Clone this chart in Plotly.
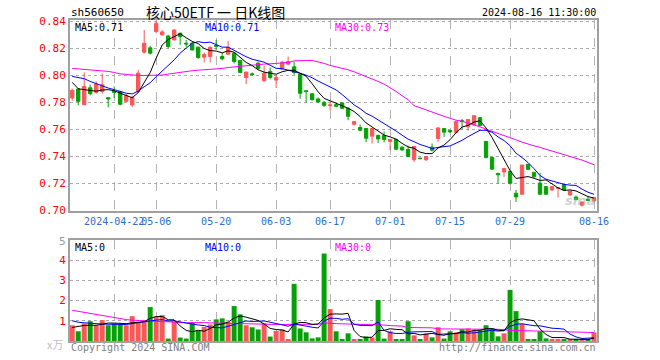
import plotly.graph_objects as go
import pandas as pd

# ---------------- data ----------------
dates = [
    "2024-04-11", "2024-04-12", "2024-04-15", "2024-04-16", "2024-04-17", "2024-04-18", "2024-04-19",
    "2024-04-22", "2024-04-23", "2024-04-24", "2024-04-25", "2024-04-26", "2024-04-29", "2024-04-30",
    "2024-05-06", "2024-05-07", "2024-05-08", "2024-05-09", "2024-05-10",
    "2024-05-13", "2024-05-14", "2024-05-15", "2024-05-16", "2024-05-17",
    "2024-05-20", "2024-05-21", "2024-05-22", "2024-05-23", "2024-05-24",
    "2024-05-27", "2024-05-28", "2024-05-29", "2024-05-30", "2024-05-31",
    "2024-06-03", "2024-06-04", "2024-06-05", "2024-06-06", "2024-06-07",
    "2024-06-11", "2024-06-12", "2024-06-13", "2024-06-14",
    "2024-06-17", "2024-06-18", "2024-06-19", "2024-06-20", "2024-06-21",
    "2024-06-24", "2024-06-25", "2024-06-26", "2024-06-27", "2024-06-28",
    "2024-07-01", "2024-07-02", "2024-07-03", "2024-07-04", "2024-07-05",
    "2024-07-08", "2024-07-09", "2024-07-10", "2024-07-11", "2024-07-12",
    "2024-07-15", "2024-07-16", "2024-07-17", "2024-07-18", "2024-07-19",
    "2024-07-22", "2024-07-23", "2024-07-24", "2024-07-25", "2024-07-26",
    "2024-07-29", "2024-07-30", "2024-07-31", "2024-08-01", "2024-08-02",
    "2024-08-05", "2024-08-06", "2024-08-07", "2024-08-08", "2024-08-09",
    "2024-08-12", "2024-08-13", "2024-08-14", "2024-08-15", "2024-08-16",
]

open_ = [0.7832, 0.7899, 0.7783, 0.7908, 0.7874, 0.7881, 0.7835, 0.7881, 0.7881, 0.7808,
         0.7781, 0.7881, 0.8171, 0.8203, 0.8323, 0.8299, 0.8291, 0.8262, 0.8311, 0.8237,
         0.8237, 0.8208, 0.8134, 0.8139, 0.8220, 0.8139, 0.8156, 0.8164, 0.8110, 0.7984,
         0.8011, 0.8090, 0.7960, 0.8029, 0.7965, 0.8046, 0.8083, 0.8063, 0.8009, 0.7886,
         0.7864, 0.7825, 0.7800, 0.7776, 0.7783, 0.7796, 0.7756, 0.7638, 0.7614, 0.7607,
         0.7550, 0.7555, 0.7555, 0.7511, 0.7526, 0.7469, 0.7452, 0.7376, 0.7388, 0.7376,
         0.7469, 0.7533, 0.7607, 0.7592, 0.7577, 0.7665, 0.7619, 0.7634, 0.7687, 0.7511,
         0.7393, 0.7275, 0.7285, 0.7290, 0.7128, 0.7121, 0.7342, 0.7283, 0.7204, 0.7177,
         0.7153, 0.7165, 0.7192, 0.7116, 0.7101, 0.7040, 0.7084, 0.7072]
high = [0.7901, 0.7906, 0.8021, 0.7930, 0.7955, 0.8014, 0.7835, 0.7918, 0.7886, 0.7864,
        0.7849, 0.8041, 0.8335, 0.8218, 0.8404, 0.8335, 0.8299, 0.8340, 0.8316, 0.8262,
        0.8247, 0.8213, 0.8169, 0.8213, 0.8262, 0.8164, 0.8254, 0.8169, 0.8115, 0.8026,
        0.8021, 0.8100, 0.8070, 0.8058, 0.8004, 0.8107, 0.8139, 0.8102, 0.8016, 0.7886,
        0.7864, 0.7837, 0.7810, 0.7808, 0.7788, 0.7800, 0.7764, 0.7658, 0.7636, 0.7607,
        0.7611, 0.7562, 0.7584, 0.7530, 0.7530, 0.7476, 0.7481, 0.7479, 0.7390, 0.7400,
        0.7496, 0.7616, 0.7607, 0.7597, 0.7661, 0.7678, 0.7673, 0.7702, 0.7692, 0.7511,
        0.7393, 0.7275, 0.7312, 0.7290, 0.7153, 0.7337, 0.7346, 0.7283, 0.7280, 0.7177,
        0.7177, 0.7170, 0.7192, 0.7145, 0.7101, 0.7064, 0.7108, 0.7096]
low = [0.7813, 0.7778, 0.7778, 0.7852, 0.7864, 0.7864, 0.7764, 0.7832, 0.7778, 0.7803,
       0.7766, 0.7869, 0.8161, 0.8154, 0.8311, 0.8294, 0.8200, 0.8257, 0.8225, 0.8208,
       0.8183, 0.8122, 0.8095, 0.8095, 0.8188, 0.8110, 0.8154, 0.8088, 0.8016, 0.7935,
       0.7997, 0.8041, 0.7953, 0.7970, 0.7906, 0.8041, 0.8073, 0.8004, 0.7827, 0.7800,
       0.7813, 0.7796, 0.7766, 0.7742, 0.7764, 0.7751, 0.7668, 0.7629, 0.7587, 0.7506,
       0.7496, 0.7499, 0.7503, 0.7447, 0.7447, 0.7440, 0.7396, 0.7359, 0.7383, 0.7366,
       0.7437, 0.7506, 0.7543, 0.7575, 0.7572, 0.7599, 0.7592, 0.7629, 0.7624, 0.7386,
       0.7300, 0.7197, 0.7248, 0.7194, 0.7064, 0.7121, 0.7300, 0.7243, 0.7118, 0.7116,
       0.7145, 0.7096, 0.7145, 0.7108, 0.7076, 0.7030, 0.7076, 0.7064]
close = [0.7889, 0.7808, 0.7918, 0.7864, 0.7935, 0.7930, 0.7825, 0.7874, 0.7786, 0.7849,
         0.7837, 0.8016, 0.8237, 0.8164, 0.8384, 0.8321, 0.8213, 0.8335, 0.8286, 0.8232,
         0.8188, 0.8132, 0.8154, 0.8208, 0.8215, 0.8122, 0.8208, 0.8102, 0.8021, 0.8024,
         0.8006, 0.8051, 0.8016, 0.7984, 0.7984, 0.8097, 0.8102, 0.8021, 0.7867, 0.7881,
         0.7820, 0.7803, 0.7778, 0.7781, 0.7771, 0.7756, 0.7697, 0.7658, 0.7594, 0.7535,
         0.7607, 0.7530, 0.7526, 0.7526, 0.7454, 0.7449, 0.7400, 0.7474, 0.7384, 0.7400,
         0.7447, 0.7611, 0.7580, 0.7582, 0.7658, 0.7658, 0.7673, 0.7702, 0.7629, 0.7393,
         0.7307, 0.7265, 0.7312, 0.7202, 0.7101, 0.7337, 0.7305, 0.7251, 0.7121, 0.7121,
         0.7177, 0.7170, 0.7153, 0.7145, 0.7081, 0.7064, 0.7076, 0.7096]

# first moving-average values (their history lies before the first candle)
ma5_start = [0.7948, 0.7901, 0.7894, 0.7886]
ma10_start = [0.7992, 0.7984, 0.7975, 0.7955, 0.7938, 0.7918, 0.7906, 0.7894, 0.7881]
ma30 = [0.8051, 0.8048, 0.8046, 0.8043, 0.8038, 0.8034, 0.8029, 0.8021, 0.8011, 0.8007,
        0.8002, 0.7999, 0.7999, 0.7999, 0.7999, 0.8002, 0.8009, 0.8016, 0.8021, 0.8029,
        0.8034, 0.8038, 0.8041, 0.8043, 0.8046, 0.8051, 0.8058, 0.8063, 0.8065, 0.8070,
        0.8075, 0.8080, 0.8083, 0.8085, 0.8088, 0.8088, 0.8095, 0.8107, 0.8110, 0.8110,
        0.8110, 0.8100, 0.8088, 0.8073, 0.8063, 0.8053, 0.8041, 0.8026, 0.8009, 0.7992,
        0.7972, 0.7955, 0.7935, 0.7911, 0.7881, 0.7849, 0.7820, 0.7776, 0.7759, 0.7742,
        0.7727, 0.7712, 0.7697, 0.7683, 0.7668, 0.7661, 0.7648, 0.7634, 0.7619, 0.7602,
        0.7587, 0.7570, 0.7553, 0.7538, 0.7523, 0.7506, 0.7491, 0.7479, 0.7467, 0.7454,
        0.7440, 0.7427, 0.7415, 0.7403, 0.7391, 0.7373, 0.7356, 0.7339]

volume = [0.78, 0.48, 0.87, 0.98, 0.78, 1.03, 0.78, 0.87, 0.83, 0.78,
          1.23, 0.95, 0.98, 1.68, 1.20, 1.28, 0.12, 0.95, 0.17, 0.12,
          0.92, 0.50, 0.70, 0.82, 1.07, 1.12, 0.95, 1.73, 1.32, 0.78,
          0.68, 0.57, 0.87, 0.22, 0.50, 0.57, 0.08, 2.83, 0.62, 0.43,
          0.13, 0.18, 4.33, 1.58, 0.48, 0.08, 0.38, 0.08, 0.08, 0.23,
          0.17, 2.03, 0.12, 0.48, 0.08, 0.08, 0.98, 0.28, 0.08, 0.37,
          0.18, 0.68, 0.12, 0.48, 0.42, 0.58, 0.62, 0.52, 0.53, 0.78,
          0.62, 0.23, 0.38, 2.53, 1.48, 0.85, 0.08, 0.08, 0.48, 0.13,
          0.08, 0.08, 0.08, 0.08, 0.08, 0.08, 0.08, 0.42]
vma5_start = [0.67, 0.73, 0.77, 0.78]
vma10_start = [1.00, 0.93, 0.90, 0.87, 0.85, 0.84, 0.83, 0.82, 0.82]
vma30 = [1.52, 1.47, 1.42, 1.37, 1.32, 1.27, 1.21, 1.14, 1.10, 1.06,
         1.03, 1.01, 0.99, 0.98, 0.97, 0.96, 0.95, 0.93, 0.91, 0.90,
         0.91, 0.92, 0.91, 0.90, 0.88, 0.88, 0.87, 0.87, 0.86, 0.84,
         0.83, 0.83, 0.83, 0.83, 0.82, 0.82, 0.82, 0.85, 0.85, 0.84,
         0.83, 0.83, 0.90, 0.87, 0.86, 0.85, 0.84, 0.83, 0.82, 0.82,
         0.82, 0.82, 0.79, 0.76, 0.75, 0.74, 0.67, 0.67, 0.66, 0.66,
         0.65, 0.60, 0.60, 0.60, 0.60, 0.59, 0.59, 0.59, 0.59, 0.59,
         0.58, 0.58, 0.56, 0.52, 0.52, 0.51, 0.50, 0.49, 0.48, 0.47,
         0.47, 0.47, 0.47, 0.46, 0.45, 0.44, 0.43, 0.42]

tick_dates = ["2024-04-22", "2024-05-06", "2024-05-20", "2024-06-03", "2024-06-17",
              "2024-07-01", "2024-07-15", "2024-07-29", "2024-08-16"]
tick_text = ["2024-04-22", "05-06", "05-20", "06-03", "06-17", "07-01", "07-15", "07-29", "08-16"]
price_ticks = [0.70, 0.72, 0.74, 0.76, 0.78, 0.80, 0.82, 0.84]
vol_ticks = [1, 2, 3, 4]

# ---------------- derived series ----------------
ma5 = pd.Series(close).rolling(5).mean().tolist()
ma5[:len(ma5_start)] = ma5_start
ma10 = pd.Series(close).rolling(10).mean().tolist()
ma10[:len(ma10_start)] = ma10_start
vma5 = pd.Series(volume).rolling(5).mean().tolist()
vma5[:len(vma5_start)] = vma5_start
vma10 = pd.Series(volume).rolling(10).mean().tolist()
vma10[:len(vma10_start)] = vma10_start

RED = "#fa5858"
GREEN = "#08a008"
MONO = "DejaVu Sans Mono"
FS = 10
bar_colors = [RED if c >= o else GREEN for o, c in zip(open_, close)]

# ---------------- figure ----------------
W, H = 660, 360
L, R, T, B = 70, 63, 20, 19
PH = H - T - B


def px(x):
    return (x - L) / (W - L - R)


def py(y):
    return (H - B - y) / PH


fig = go.Figure()
fig.add_trace(go.Candlestick(
    x=dates, open=open_, high=high, low=low, close=close,
    increasing=dict(line=dict(color=RED, width=1), fillcolor=RED),
    decreasing=dict(line=dict(color=GREEN, width=1), fillcolor=GREEN),
    whiskerwidth=0, xaxis="x", yaxis="y", showlegend=False, hoverinfo="skip"))
for series, col in [(ma30, "#ff00ff"), (ma10, "#0000ff"), (ma5, "#000000")]:
    fig.add_trace(go.Scatter(x=dates, y=series, mode="lines", line=dict(color=col, width=1),
                             xaxis="x", yaxis="y", showlegend=False, hoverinfo="skip"))

fig.add_trace(go.Bar(x=dates, y=volume, marker=dict(color=bar_colors, line=dict(width=0)),
                     xaxis="x2", yaxis="y2", showlegend=False, hoverinfo="skip"))
for series, col in [(vma30, "#ff00ff"), (vma10, "#0000ff"), (vma5, "#000000")]:
    fig.add_trace(go.Scatter(x=dates, y=series, mode="lines", line=dict(color=col, width=1),
                             xaxis="x2", yaxis="y2", showlegend=False, hoverinfo="skip"))

xcommon = dict(type="category", categoryorder="array", categoryarray=dates,
               range=[-0.37, len(dates) - 0.5], tickvals=tick_dates, ticktext=tick_text,
               showgrid=True, gridcolor="#b4b4b4", griddash="dash", gridwidth=1,
               showline=True, mirror=True, linecolor="#a0a0a0", linewidth=2,
               ticks="", zeroline=False, fixedrange=True, tickangle=0)
ycommon = dict(showgrid=True, gridcolor="#aaaaaa", griddash="dot", gridwidth=1,
               showline=True, mirror=True, linecolor="#a0a0a0", linewidth=2,
               ticks="", zeroline=False, fixedrange=True,
               tickfont=dict(family=MONO, size=11, color="#ff0000"))

fig.update_layout(
    width=W, height=H, margin=dict(l=L, r=R, t=T, b=B, pad=0),
    paper_bgcolor="white", plot_bgcolor="white", showlegend=False,
    boxgap=0.2, bargap=0.17,
    xaxis=dict(**xcommon, anchor="y", rangeslider=dict(visible=False),
               tickfont=dict(family=MONO, size=FS, color="#2a6fd0")),
    yaxis=dict(**ycommon, domain=[py(211), 1], range=[0.6997, 0.8409],
               tickvals=price_ticks, tickformat=".2f"),
    xaxis2=dict(**xcommon, anchor="y2", showticklabels=False),
    yaxis2=dict(**ycommon, domain=[0, py(240)], range=[0, 5], tickvals=vol_ticks),
)

anns = [
    dict(text="sh560650", x=px(70), y=py(12), xanchor="left", font=dict(family=MONO, size=11, color="#000")),
    dict(text="核心50ETF 一 日K线图", x=px(215), y=py(12), xanchor="center",
         font=dict(family="Noto Sans CJK SC", size=14, color="#000")),
    dict(text="2024-08-16 11:30:00", x=px(597), y=py(12), xanchor="right", font=dict(family=MONO, size=FS, color="#000")),
    dict(text="MA5:0.71", x=px(74), y=py(27), xanchor="left", font=dict(family=MONO, size=FS, color="#000")),
    dict(text="MA10:0.71", x=px(204), y=py(27), xanchor="left", font=dict(family=MONO, size=FS, color="#0000ff")),
    dict(text="MA30:0.73", x=px(334), y=py(27), xanchor="left", font=dict(family=MONO, size=FS, color="#ff00ff")),
    dict(text="MA5:0", x=px(74), y=py(247), xanchor="left", font=dict(family=MONO, size=FS, color="#000")),
    dict(text="MA10:0", x=px(204), y=py(247), xanchor="left", font=dict(family=MONO, size=FS, color="#0000ff")),
    dict(text="MA30:0", x=px(334), y=py(247), xanchor="left", font=dict(family=MONO, size=FS, color="#ff00ff")),
    dict(text="5", x=px(67), y=py(241), xanchor="right", font=dict(family=MONO, size=11, color="#999999")),
    dict(text="x万", x=px(64), y=py(344), xanchor="right", font=dict(family="Noto Sans CJK SC", size=11, color="#c0c0c0")),
    dict(text="Copyright 2024 SINA.COM", x=px(70), y=py(348), xanchor="left", font=dict(family=MONO, size=FS, color="#808080")),
    dict(text="http://finance.sina.com.cn", x=px(597), y=py(348), xanchor="right", font=dict(family=MONO, size=FS, color="#808080")),
    dict(text="<b><i>sina</i></b>", x=px(580), y=py(201), xanchor="center",
         font=dict(family="DejaVu Sans", size=13, color="rgba(170,170,170,0.55)")),
]
for a in anns:
    a.update(xref="paper", yref="paper", yanchor="middle", showarrow=False, borderpad=0)
fig.update_layout(annotations=anns)

fig.write_html("out.html", config={"displayModeBar": False},
               post_script="document.body.style.margin='0';document.body.style.padding='0';")
